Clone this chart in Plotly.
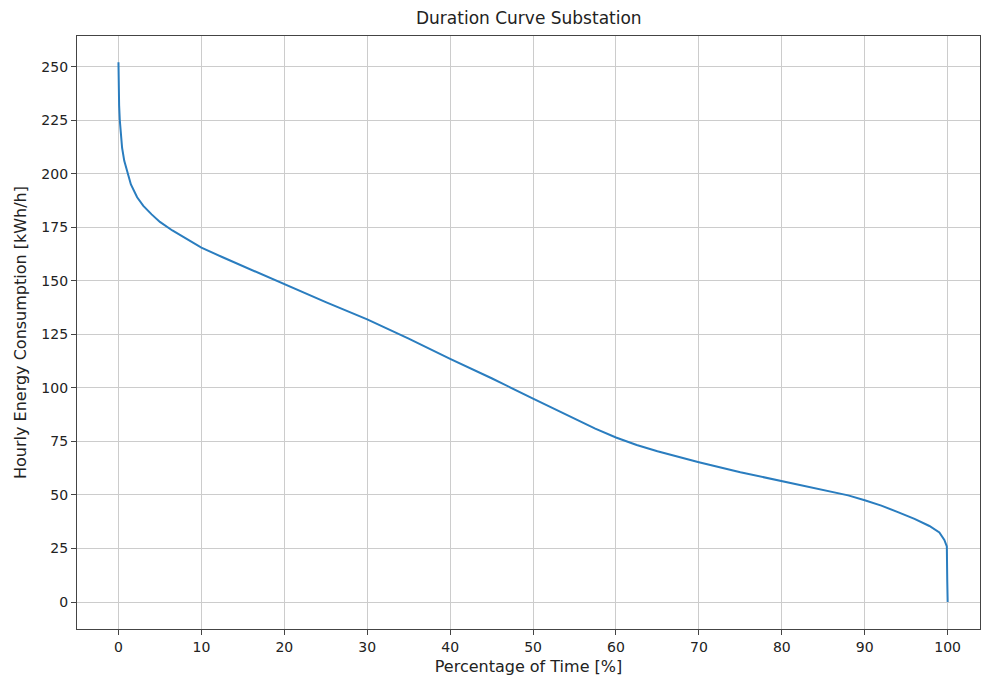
import plotly.graph_objects as go

# Duration curve: percentage of time vs hourly consumption
pct_time = [0, 0.02, 0.08, 0.16, 0.3, 0.44, 0.7, 1.0, 1.5, 2.25, 3.0, 4.0, 5.0, 6.5, 8, 10,
            12.5, 15, 17.5, 20, 25, 30, 35, 40, 45, 50, 55, 57.5, 60, 62.5, 65, 67.5, 70, 75, 80, 85, 88,
            90, 92, 94, 96, 97.8, 99, 99.6, 99.9, 99.95, 100]
consumption = [252, 240, 232, 225, 218, 212, 206, 201.5, 195, 189, 185, 181, 177.5, 173.5, 170, 165.5,
               161.1, 156.9, 152.6, 148.5, 140, 132, 123, 113.5, 104.5, 95, 85.5, 81, 76.8, 73.3, 70.4, 67.7,
               65.3, 60.6, 56.4, 52.5, 49.8,
               47.5, 45, 42, 38.8, 35.5, 32.5, 29, 26, 10, 0]

x_ticks = list(range(0, 101, 10))
y_ticks = list(range(0, 251, 25))

fig = go.Figure()
fig.add_trace(go.Scatter(x=pct_time, y=consumption, mode="lines",
                         line=dict(color="#2a7dbf", width=2), showlegend=False))

axis_common = dict(showline=True, mirror=True, linecolor="#444444", linewidth=1.3,
                   ticks="outside", ticklen=5, tickcolor="#444444", tickwidth=1.2,
                   showgrid=True, gridcolor="#cccccc", gridwidth=1.2, zeroline=False,
                   tickfont=dict(family="DejaVu Sans", size=14, color="#222222"))

fig.update_layout(
    width=982, height=680,
    margin=dict(l=77, r=2, t=36, b=51),
    paper_bgcolor="white", plot_bgcolor="white",
    title=dict(text="Duration Curve Substation", x=0.5385, xanchor="center", y=0.973, yanchor="middle",
               font=dict(family="DejaVu Sans", size=17, color="#222222")),
    xaxis=dict(range=[-5, 103.9], tickvals=x_ticks,
               title=dict(text="Percentage of Time [%]", standoff=6,
                          font=dict(family="DejaVu Sans", size=16, color="#222222")),
               **axis_common),
    yaxis=dict(range=[-12.6, 264.3], tickvals=y_ticks,
               title=dict(text="Hourly Energy Consumption [kWh/h]", standoff=10,
                          font=dict(family="DejaVu Sans", size=16, color="#222222")),
               **axis_common),
)

fig.write_html("out.html")
